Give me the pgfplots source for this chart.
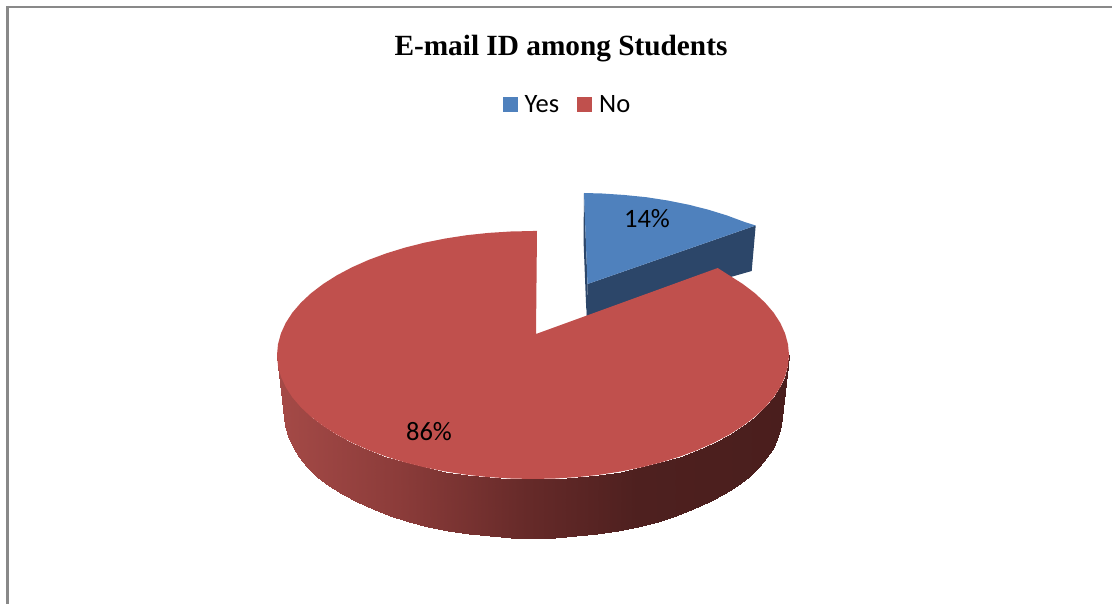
\documentclass[border=0pt]{standalone}
\usepackage{pgfplots}
\pgfplotsset{compat=1.18}
\usepackage{fontspec}
\setmainfont{Carlito}
\newfontfamily\titlefont{Liberation Serif}
\definecolor{pieblue}{RGB}{79,129,189}
\definecolor{piered}{RGB}{192,80,77}
\definecolor{bluedark}{RGB}{44,70,105}
\definecolor{framegray}{RGB}{137,137,137}
\begin{document}
\begin{tikzpicture}
\useasboundingbox (0,0) rectangle (1112pt,604pt);
\begin{axis}[
  at={(0,0)}, anchor=south west,
  scale only axis, width=1112pt, height=604pt,
  xmin=0, xmax=1112, ymin=0, ymax=604, y dir=reverse,
  hide axis, clip=false,
  colormap={sidecm}{rgb255(0cm)=(165,74,71); rgb255(1.2cm)=(140,60,58); rgb255(2.5cm)=(102,42,41); rgb255(3.6cm)=(78,32,31); rgb255(5.12cm)=(74,30,29)},
  point meta min=277, point meta max=789,
  legend style={at={(axis cs:567.5,105)}, anchor=center, draw=none, fill=none, legend columns=2,
    font=\fontsize{26.5}{28}\selectfont, inner sep=0pt, outer sep=0pt,
    /tikz/every odd column/.append style={column sep=5pt},
    /tikz/every even column/.append style={column sep=16pt}},
  legend image code/.code={\fill[#1] (0pt,-7.5pt) rectangle (15pt,7.5pt);},
]
% frame
\addplot[forget plot, framegray, line width=3pt] coordinates {(7.5,6) (7.5,604)};
\addplot[forget plot, framegray, line width=2pt] coordinates {(6,7.5) (1112,7.5)};
% blue slice: sides
\addplot[forget plot, fill=bluedark, draw=none] coordinates {(584,193) (583.5,240) (586.5,316) (587.5,284) (584,193)};
\addplot[forget plot, fill=bluedark, draw=none] coordinates {(587.5,284) (755.7,225.5) (751.7,271) (586.7,318) (587.5,284)};
% blue slice: top
\addplot[fill=pieblue, draw=none] coordinates {(584,193) (602,193.5) (624.5,195) (646.3,197.2) (667.6,200.5) (688.2,204.6) (708,209.6) (726.8,215.4) (744.6,222) (755.7,225.5) (587.5,284) (584,193)};
\addlegendentry{Yes}
% red slice: side wall
\addplot[forget plot, surf, shader=interp, mesh/rows=2, mesh/cols=37, point meta=x] coordinates {
(789,355) (788,365.8) (785.1,376.5) (780.3,387.1) (773.6,397.4) (765,407.4) (754.7,417) (742.7,426.1) (729.1,434.7) (714,442.7) (697.6,450) (679.8,456.6) (661,462.4) (641.2,467.4) (620.6,471.5) (599.3,474.8) (577.5,477.1) (555.3,478.5) (533,479)
(510.7,478.5) (488.5,477.1) (466.7,474.8) (445.4,471.5) (424.8,467.4) (405,462.4) (386.2,456.6) (368.4,450) (352,442.7) (336.9,434.7) (323.3,426.1) (311.3,417) (301,407.4) (292.4,397.4) (285.7,387.1) (280.9,376.5) (278,365.8) (277,355)

(782,415) (781.1,425.7) (778.2,436.4) (773.5,446.8) (767,457.1) (758.7,467) (748.6,476.5) (737,485.6) (723.7,494.1) (709.1,502) (693.1,509.2) (675.8,515.8) (657.5,521.5) (638.2,526.5) (618.2,530.6) (597.4,533.8) (576.2,536.1) (554.7,537.5) (533,538)
(511.3,537.5) (489.8,536.1) (468.6,533.8) (447.8,530.6) (427.8,526.5) (408.5,521.5) (390.2,515.8) (372.9,509.2) (356.9,502) (342.3,494.1) (329,485.6) (317.4,476.5) (307.3,467) (299,457.1) (292.5,446.8) (287.8,436.4) (284.9,425.7) (284,415)
};
% red slice: top
\addplot[fill=piered, draw=none] coordinates {
(717.7,268) (729.1,275.3) (742.7,283.9) (754.7,293) (765,302.6) (773.6,312.6) (780.3,322.9) (785.1,333.5) (788,344.2)
(789,355) (788,365.8) (785.1,376.5) (780.3,387.1) (773.6,397.4) (765,407.4) (754.7,417) (742.7,426.1) (729.1,434.7) (714,442.7) (697.6,450) (679.8,456.6) (661,462.4) (641.2,467.4) (620.6,471.5) (599.3,474.8) (577.5,477.1) (555.3,478.5) (533,479)
(510.7,478.5) (488.5,477.1) (466.7,474.8) (445.4,471.5) (424.8,467.4) (405,462.4) (386.2,456.6) (368.4,450) (352,442.7) (336.9,434.7) (323.3,426.1) (311.3,417) (301,407.4) (292.4,397.4) (285.7,387.1) (280.9,376.5) (278,365.8) (277,355)
(278,344.2) (280.9,333.5) (285.7,322.9) (292.4,312.6) (301,302.6) (311.3,293) (323.3,283.9) (336.9,275.3) (352,267.3) (368.4,260) (386.2,253.4) (405,247.6) (424.8,242.6) (445.4,238.5) (466.7,235.2) (488.5,232.9) (510.7,231.5) (533,231) (537,231) (536,334) (717.7,268)};
\addlegendentry{No}
\node[font=\fontsize{29.3}{31}\selectfont\titlefont\bfseries, anchor=center] at (axis cs:561,48.5) {E-mail ID among Students};
\node[font=\fontsize{26.5}{28}\selectfont, anchor=center] at (axis cs:647,219) {14\%};
\node[font=\fontsize{26.5}{28}\selectfont, anchor=center] at (axis cs:429,432) {86\%};
\end{axis}
\end{tikzpicture}
\end{document}
